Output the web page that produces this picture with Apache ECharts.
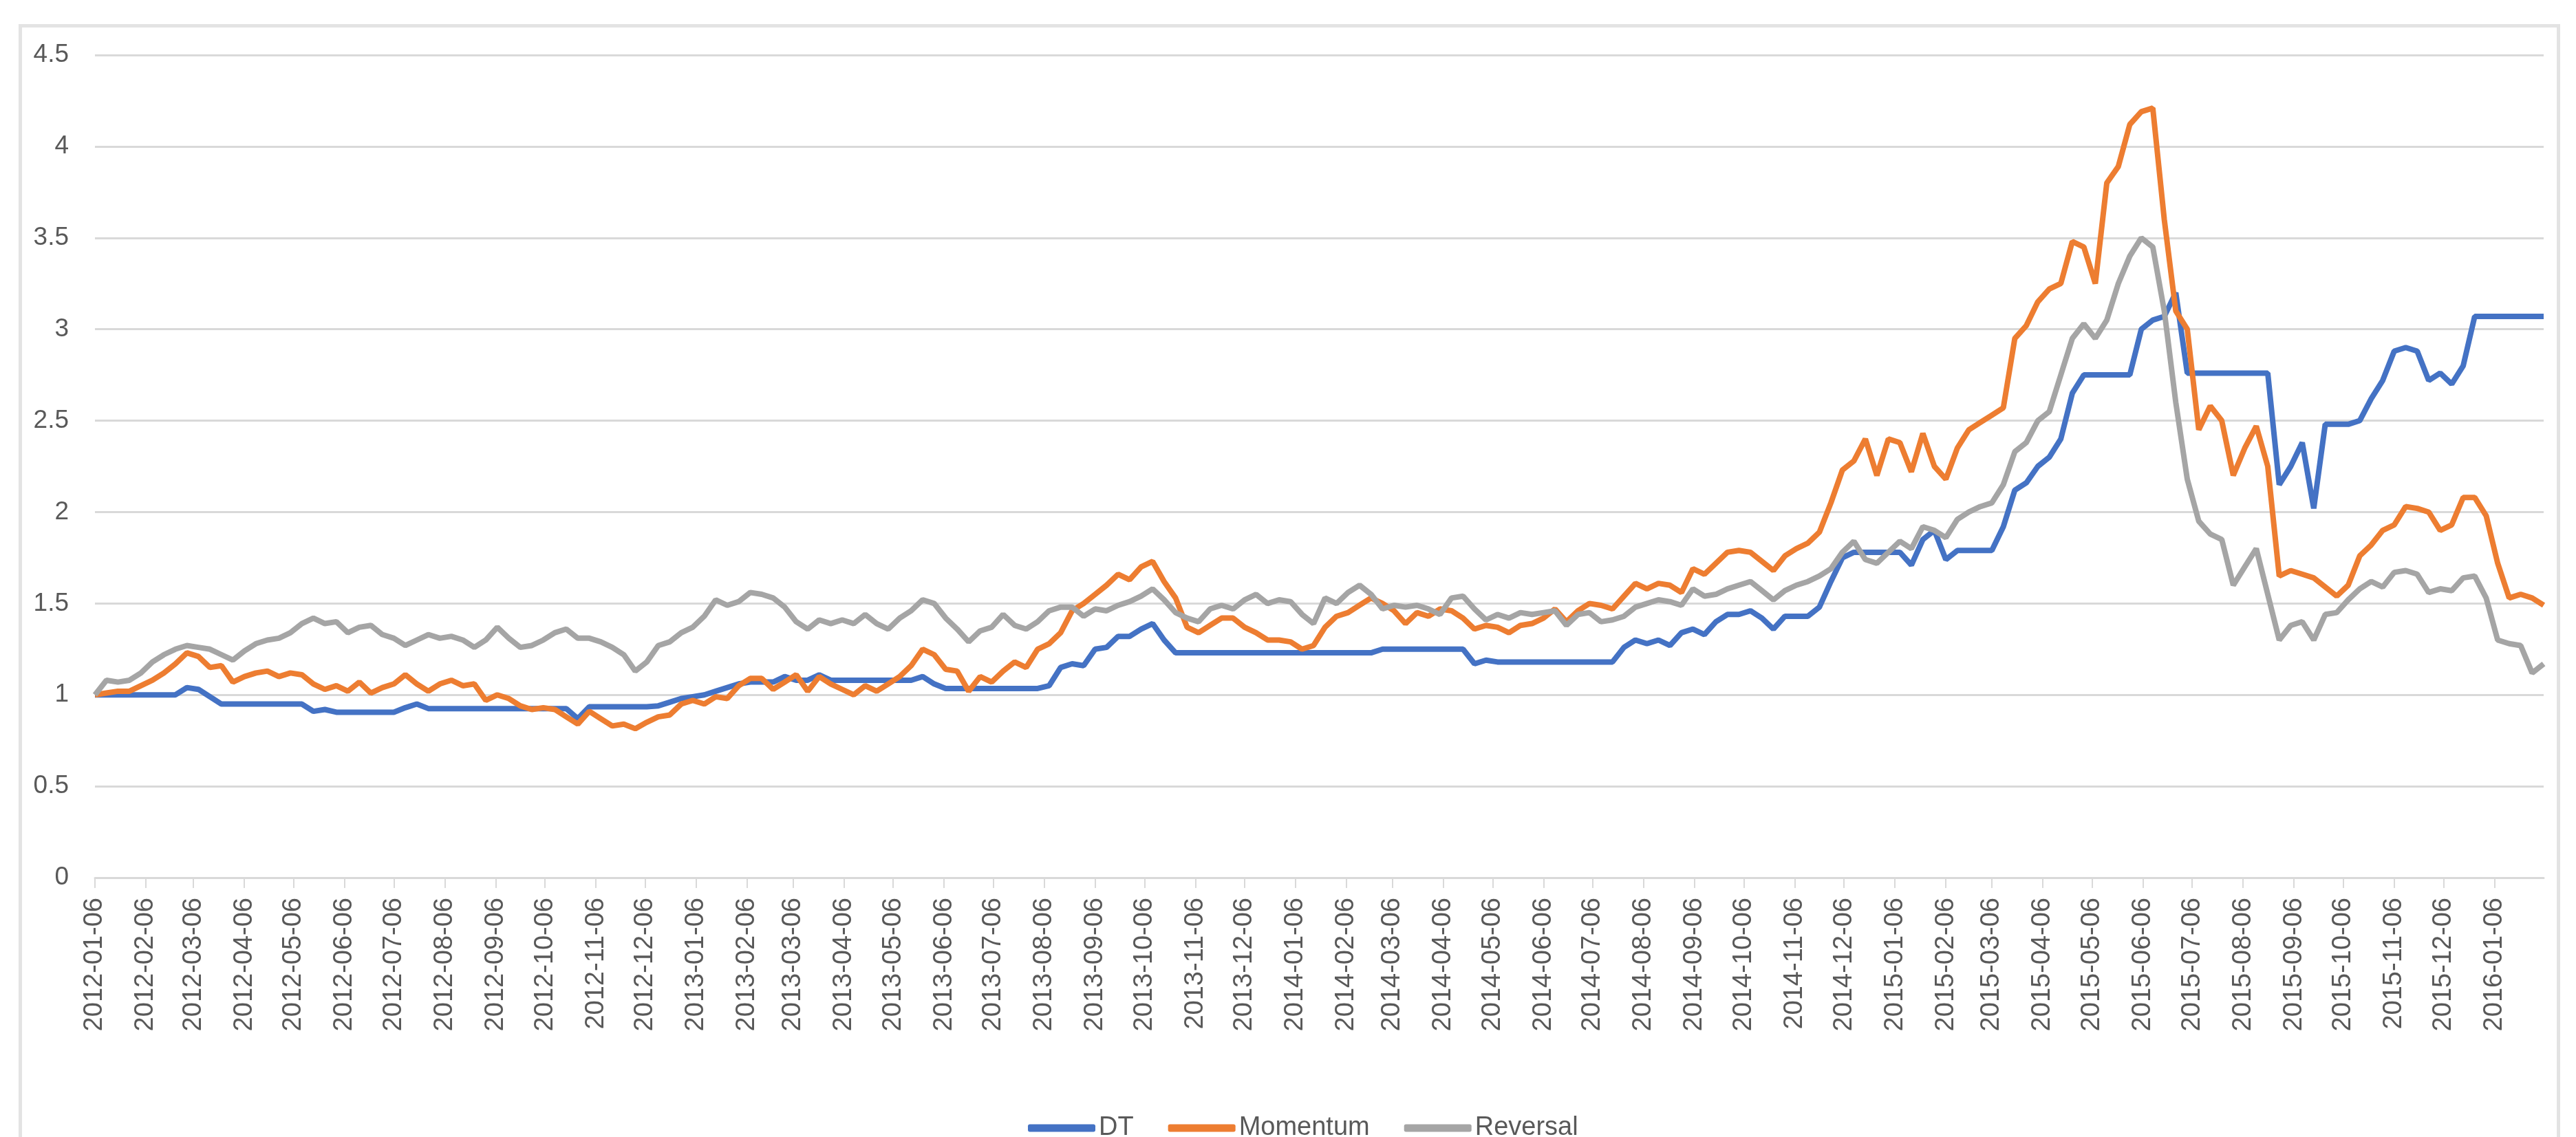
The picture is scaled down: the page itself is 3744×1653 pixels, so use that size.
<!DOCTYPE html>
<html><head><meta charset="utf-8">
<script src="https://cdn.jsdelivr.net/npm/echarts@6/dist/echarts.min.js"></script>
<style>html,body{margin:0;padding:0;background:#fff}#c{width:3744px;height:1653px}</style>
</head><body><div id="c"></div>
<script>
// ---- data ----
const seriesNames = ['DT', 'Momentum', 'Reversal'];
// weekly sampling grid (Fridays) from first to last date
const firstDate = [2012, 1, 6];
const lastDate = [2016, 2, 5];
const weekCount = 214;
const tickLabels = [
  '2012-01-06','2012-02-06','2012-03-06','2012-04-06','2012-05-06','2012-06-06','2012-07-06','2012-08-06','2012-09-06','2012-10-06','2012-11-06','2012-12-06',
  '2013-01-06','2013-02-06','2013-03-06','2013-04-06','2013-05-06','2013-06-06','2013-07-06','2013-08-06','2013-09-06','2013-10-06','2013-11-06','2013-12-06',
  '2014-01-06','2014-02-06','2014-03-06','2014-04-06','2014-05-06','2014-06-06','2014-07-06','2014-08-06','2014-09-06','2014-10-06','2014-11-06','2014-12-06',
  '2015-01-06','2015-02-06','2015-03-06','2015-04-06','2015-05-06','2015-06-06','2015-07-06','2015-08-06','2015-09-06','2015-10-06','2015-11-06','2015-12-06',
  '2016-01-06'
];
const dtValues = [
  1.00,1.00,1.00,1.00,1.00,1.00,1.00,1.00,1.04,1.03,
  0.99,0.95,0.95,0.95,0.95,0.95,0.95,0.95,0.95,0.91,
  0.92,0.905,0.905,0.905,0.905,0.905,0.905,0.93,0.95,0.925,
  0.925,0.925,0.925,0.925,0.925,0.925,0.925,0.925,0.925,0.925,
  0.925,0.925,0.87,0.935,0.935,0.935,0.935,0.935,0.935,0.94,
  0.96,0.98,0.99,1.00,1.02,1.04,1.06,1.07,1.07,1.07,
  1.10,1.08,1.08,1.11,1.08,1.08,1.08,1.08,1.08,1.08,
  1.08,1.08,1.10,1.06,1.035,1.035,1.035,1.035,1.035,1.035,
  1.035,1.035,1.035,1.05,1.15,1.17,1.16,1.25,1.26,1.32,
  1.32,1.36,1.39,1.30,1.23,1.23,1.23,1.23,1.23,1.23,
  1.23,1.23,1.23,1.23,1.23,1.23,1.23,1.23,1.23,1.23,
  1.23,1.23,1.25,1.25,1.25,1.25,1.25,1.25,1.25,1.25,
  1.17,1.19,1.18,1.18,1.18,1.18,1.18,1.18,1.18,1.18,
  1.18,1.18,1.18,1.26,1.30,1.28,1.30,1.27,1.34,1.36,
  1.33,1.40,1.44,1.44,1.46,1.42,1.36,1.43,1.43,1.43,
  1.48,1.62,1.75,1.78,1.78,1.78,1.78,1.78,1.71,1.85,
  1.90,1.74,1.79,1.79,1.79,1.79,1.92,2.12,2.16,2.25,
  2.30,2.40,2.65,2.75,2.75,2.75,2.75,2.75,3.00,3.05,
  3.07,3.20,2.76,2.76,2.76,2.76,2.76,2.76,2.76,2.76,
  2.15,2.25,2.38,2.02,2.48,2.48,2.48,2.50,2.62,2.72,
  2.88,2.90,2.88,2.72,2.76,2.70,2.80,3.07,3.07,3.07,
  3.07,3.07,3.07,3.07
];
const momentumValues = [
  1.00,1.01,1.02,1.02,1.05,1.08,1.12,1.17,1.23,1.21,
  1.15,1.16,1.07,1.10,1.12,1.13,1.10,1.12,1.11,1.06,
  1.03,1.05,1.02,1.07,1.01,1.04,1.06,1.11,1.06,1.02,
  1.06,1.08,1.05,1.06,0.97,1.00,0.98,0.94,0.92,0.93,
  0.92,0.88,0.84,0.91,0.87,0.83,0.84,0.815,0.85,0.88,
  0.89,0.95,0.97,0.95,0.99,0.98,1.05,1.09,1.09,1.03,
  1.07,1.11,1.02,1.10,1.06,1.03,1.00,1.05,1.02,1.06,
  1.10,1.16,1.25,1.22,1.14,1.13,1.02,1.10,1.07,1.13,
  1.18,1.15,1.25,1.28,1.34,1.46,1.50,1.55,1.60,1.66,
  1.63,1.70,1.73,1.62,1.53,1.37,1.34,1.38,1.42,1.42,
  1.37,1.34,1.30,1.30,1.29,1.25,1.27,1.37,1.43,1.45,
  1.49,1.53,1.50,1.46,1.39,1.45,1.43,1.47,1.46,1.42,
  1.36,1.38,1.37,1.34,1.38,1.39,1.42,1.47,1.40,1.46,
  1.50,1.49,1.47,1.54,1.61,1.58,1.61,1.60,1.56,1.69,
  1.66,1.72,1.78,1.79,1.78,1.73,1.68,1.76,1.80,1.83,
  1.89,2.05,2.23,2.28,2.40,2.20,2.40,2.38,2.22,2.43,
  2.25,2.18,2.35,2.45,2.49,2.53,2.57,2.95,3.02,3.15,
  3.22,3.25,3.48,3.45,3.25,3.80,3.89,4.12,4.19,4.21,
  3.60,3.10,3.00,2.45,2.58,2.50,2.20,2.35,2.47,2.25,
  1.65,1.68,1.66,1.64,1.59,1.54,1.60,1.76,1.82,1.90,
  1.93,2.03,2.02,2.00,1.90,1.93,2.08,2.08,1.98,1.72,
  1.53,1.55,1.53,1.49
];
const reversalValues = [
  1.00,1.08,1.07,1.08,1.12,1.18,1.22,1.25,1.27,1.26,
  1.25,1.22,1.19,1.24,1.28,1.30,1.31,1.34,1.39,1.42,
  1.39,1.40,1.34,1.37,1.38,1.33,1.31,1.27,1.30,1.33,
  1.31,1.32,1.30,1.26,1.30,1.37,1.31,1.26,1.27,1.30,
  1.34,1.36,1.31,1.31,1.29,1.26,1.22,1.13,1.18,1.27,
  1.29,1.34,1.37,1.43,1.52,1.49,1.51,1.56,1.55,1.53,
  1.48,1.40,1.36,1.41,1.39,1.41,1.39,1.44,1.39,1.36,
  1.42,1.46,1.52,1.50,1.42,1.36,1.29,1.35,1.37,1.44,
  1.38,1.36,1.40,1.46,1.48,1.48,1.43,1.47,1.46,1.49,
  1.51,1.54,1.58,1.52,1.45,1.42,1.40,1.47,1.49,1.47,
  1.52,1.55,1.50,1.52,1.51,1.44,1.39,1.53,1.50,1.56,
  1.60,1.55,1.47,1.49,1.48,1.49,1.47,1.44,1.53,1.54,
  1.47,1.41,1.44,1.42,1.45,1.44,1.45,1.46,1.38,1.44,
  1.45,1.40,1.41,1.43,1.48,1.50,1.52,1.51,1.49,1.58,
  1.54,1.55,1.58,1.60,1.62,1.57,1.52,1.57,1.60,1.62,
  1.65,1.69,1.78,1.84,1.74,1.72,1.78,1.84,1.80,1.92,
  1.90,1.86,1.96,2.00,2.03,2.05,2.15,2.33,2.38,2.50,
  2.55,2.75,2.95,3.03,2.95,3.05,3.25,3.40,3.50,3.45,
  3.10,2.60,2.18,1.95,1.88,1.85,1.60,1.70,1.80,1.55,
  1.30,1.38,1.40,1.30,1.44,1.45,1.52,1.58,1.62,1.59,
  1.67,1.68,1.66,1.56,1.58,1.57,1.64,1.65,1.53,1.30,
  1.28,1.27,1.12,1.17
];

// ---- build ----
function ts(y, m, d) { return new Date(y, m - 1, d).getTime(); }
function parseDay(s) { const p = s.split('-').map(Number); return ts(p[0], p[1], p[2]); }
function pad(n) { return (n < 10 ? '0' : '') + n; }
function fmt(v) { const d = new Date(v); return d.getFullYear() + '-' + pad(d.getMonth() + 1) + '-' + pad(d.getDate()); }

const weekDates = [];
for (let i = 0; i < weekCount; i++) weekDates.push(ts(firstDate[0], firstDate[1], firstDate[2] + 7 * i));
const tickValues = tickLabels.map(parseDay);
function pairs(vals) { return vals.map((v, i) => [weekDates[i], v]); }

const colors = ['#4472C4', '#ED7D31', '#A5A5A5'];
const textColor = '#595959';
const gridColor = '#D9D9D9';
const font = 'Liberation Sans, Arial, sans-serif';

const chart = echarts.init(document.getElementById('c'), null, { renderer: 'canvas' });
chart.setOption({
  animation: false,
  backgroundColor: '#ffffff',
  color: colors,
  grid: { left: 138, right: 47, top: 80, bottom: 377, containLabel: false, outerBoundsMode: 'none' },
  graphic: [{
    type: 'polyline',
    shape: { points: [[29.5, 1660], [29.5, 37.5], [3718.5, 37.5], [3718.5, 1660]] },
    style: { stroke: '#E3E3E3', lineWidth: 5, fill: null },
    silent: true
  }],
  legend: {
    data: seriesNames,
    left: 1489,
    top: 1616,
    itemWidth: 98,
    itemHeight: 11,
    itemGap: 50,
    icon: 'roundRect',
    textStyle: { fontFamily: font, fontSize: 38, color: textColor }
  },
  xAxis: {
    type: 'value',
    min: ts(firstDate[0], firstDate[1], firstDate[2]),
    max: ts(lastDate[0], lastDate[1], lastDate[2]),
    scale: true,
    splitLine: { show: false },
    axisLine: { show: true, onZero: false, lineStyle: { color: gridColor, width: 3 } },
    axisTick: { show: true, customValues: tickValues, length: 15, lineStyle: { color: gridColor, width: 2 } },
    axisLabel: {
      customValues: tickValues,
      rotate: 90,
      margin: 29,
      hideOverlap: false,
      showMinLabel: true,
      showMaxLabel: true,
      fontFamily: font,
      fontSize: 38,
      color: textColor,
      formatter: function (v) { return fmt(v); }
    }
  },
  yAxis: {
    type: 'value',
    min: 0,
    max: 4.5,
    interval: 0.5,
    axisLine: { show: false },
    axisTick: { show: false },
    splitLine: { lineStyle: { color: gridColor, width: 3 } },
    axisLabel: { margin: 38, fontFamily: font, fontSize: 37, color: textColor }
  },
  series: [
    { name: seriesNames[0], type: 'line', data: pairs(dtValues), showSymbol: false, lineStyle: { width: 8, color: colors[0] }, itemStyle: { color: colors[0] } },
    { name: seriesNames[1], type: 'line', data: pairs(momentumValues), showSymbol: false, lineStyle: { width: 8, color: colors[1] }, itemStyle: { color: colors[1] } },
    { name: seriesNames[2], type: 'line', data: pairs(reversalValues), showSymbol: false, lineStyle: { width: 8, color: colors[2] }, itemStyle: { color: colors[2] } }
  ]
});
</script></body></html>
